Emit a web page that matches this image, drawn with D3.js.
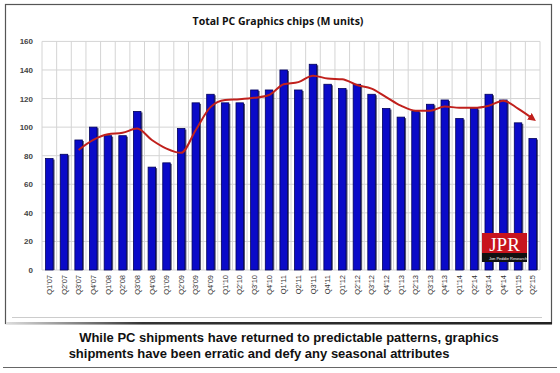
<!DOCTYPE html>
<html>
<head>
<meta charset="utf-8">
<script src="https://cdn.jsdelivr.net/npm/d3@7"></script>
<style>
  body { margin: 0; background: #fff; }
  svg { display: block; }
</style>
</head>
<body>
<div id="chart"></div>
<script>
// quarters Q1'07 .. Q2'15
var quarters = ["Q1'07","Q2'07","Q3'07","Q4'07","Q1'08","Q2'08","Q3'08","Q4'08",
  "Q1'09","Q2'09","Q3'09","Q4'09","Q1'10","Q2'10","Q3'10","Q4'10",
  "Q1'11","Q2'11","Q3'11","Q4'11","Q1'12","Q2'12","Q3'12","Q4'12",
  "Q1'13","Q2'13","Q3'13","Q4'13","Q1'14","Q2'14","Q3'14","Q4'14",
  "Q1'15","Q2'15"];

// shipments, M units
var shipments = [78, 81, 91, 100, 94, 94, 111, 72,
  75, 99, 117, 123, 117, 117, 126, 126,
  140, 126, 144, 130, 127, 130, 123, 113,
  107, 111, 116, 119, 106, 113, 123, 119,
  103, 92];

// red trend line (starts at Q3'07)
var trend = [null, null, 84, 91, 95, 96, 99, 91,
  85, 82, 98, 114, 119, 119.5, 120.5, 122.5,
  130, 131.5, 136, 134, 133.5, 129.5, 127, 121,
  115, 111.5, 111.5, 114.5, 113.5, 113.5, 115, 118.5,
  113, 106];

var yTicks = [0, 20, 40, 60, 80, 100, 120, 140, 160];

var title = "Total PC Graphics chips (M units)";
var caption = ["While PC shipments have returned to predictable patterns, graphics",
  "shipments have been erratic and defy any seasonal attributes"];

var width = 560, height = 373;
var plot = {left: 42, right: 540, top: 41.4, bottom: 270};

var svg = d3.select('#chart').append('svg')
  .attr('width', width)
  .attr('height', height);

var defs = svg.append('defs');
defs.append('marker')
  .attr('id', 'arrow')
  .attr('viewBox', '0 0 10 10')
  .attr('refX', 5).attr('refY', 5)
  .attr('markerWidth', 4).attr('markerHeight', 4)
  .attr('orient', 'auto')
  .append('path')
  .attr('d', 'M0,0L10,5L0,10z')
  .attr('fill', '#c0201c');

var grad = defs.append('linearGradient').attr('id', 'frameShade')
  .attr('x1', 0).attr('x2', 1).attr('y1', 0).attr('y2', 0);
grad.append('stop').attr('offset', 0).attr('stop-color', '#ddd');
grad.append('stop').attr('offset', 0.25).attr('stop-color', '#333');
grad.append('stop').attr('offset', 1).attr('stop-color', '#222');

// outer frame
svg.append('rect')
  .attr('x', 5.5).attr('y', 4.5)
  .attr('width', 546).attr('height', 319)
  .attr('fill', '#fff')
  .attr('stroke', '#555')
  .attr('stroke-width', 1.2);
svg.append('rect')
  .attr('x', 6).attr('y', 322)
  .attr('width', 546).attr('height', 2.5)
  .attr('fill', 'url(#frameShade)');
svg.append('line')
  .attr('x1', 12).attr('x2', 542)
  .attr('y1', 317.5).attr('y2', 317.5)
  .attr('stroke', '#ccc');

var x = d3.scaleBand()
  .domain(quarters)
  .range([plot.left, plot.right])
  .padding(0);

var y = d3.scaleLinear()
  .domain([0, 160])
  .range([plot.bottom, plot.top]);

var g = svg.append('g');

// horizontal grid
g.selectAll('.hgrid')
  .data(yTicks)
  .enter()
  .append('line')
  .attr('class', 'hgrid')
  .attr('x1', plot.left).attr('x2', plot.right)
  .attr('y1', function(d) { return y(d); })
  .attr('y2', function(d) { return y(d); })
  .attr('stroke', '#d4d4d4')
  .attr('stroke-width', 1);

// vertical grid on category boundaries
g.selectAll('.vgrid')
  .data(quarters.concat(['end']))
  .enter()
  .append('line')
  .attr('class', 'vgrid')
  .attr('x1', function(d, i) { return plot.left + i * x.step(); })
  .attr('x2', function(d, i) { return plot.left + i * x.step(); })
  .attr('y1', y(160)).attr('y2', y(0))
  .attr('stroke', '#d4d4d4')
  .attr('stroke-width', 1);

// y axis labels
var yAxis = d3.axisLeft(y).tickValues(yTicks).tickSize(0).tickPadding(0);
svg.append('g')
  .attr('transform', 'translate(33,0)')
  .call(yAxis)
  .call(function(s) { s.select('.domain').remove(); })
  .selectAll('text')
  .attr('font-family', 'Liberation Sans, Arial, sans-serif')
  .attr('font-size', 8)
  .attr('font-weight', 'bold')
  .attr('fill', '#444');

// bars
var barW = 7.5;
g.selectAll('.shadow')
  .data(shipments)
  .enter()
  .append('rect')
  .attr('class', 'shadow')
  .attr('x', function(d, i) { return x(quarters[i]) + x.bandwidth() / 2 - barW / 2 + 1.5; })
  .attr('y', function(d) { return y(d) + 1; })
  .attr('width', barW)
  .attr('height', function(d) { return y(0) - y(d) - 1; })
  .attr('fill', '#1a1a40')
  .attr('opacity', 0.75);

g.selectAll('.bar')
  .data(shipments)
  .enter()
  .append('rect')
  .attr('class', 'bar')
  .attr('x', function(d, i) { return x(quarters[i]) + x.bandwidth() / 2 - barW / 2; })
  .attr('y', function(d) { return y(d); })
  .attr('width', barW)
  .attr('height', function(d) { return y(0) - y(d); })
  .attr('fill', '#0a0ac8')
  .attr('stroke', '#00005a')
  .attr('stroke-width', 0.8);

// trend line
var line = d3.line()
  .defined(function(d) { return d != null; })
  .x(function(d, i) { return x(quarters[i]) + x.bandwidth() / 2; })
  .y(function(d) { return y(d); })
  .curve(d3.curveMonotoneX);

g.append('path')
  .datum(trend)
  .attr('d', line)
  .attr('fill', 'none')
  .attr('stroke', '#c0201c')
  .attr('stroke-width', 2)
  .attr('marker-end', 'url(#arrow)');

// x labels, rotated
svg.append('g')
  .selectAll('text')
  .data(quarters)
  .enter()
  .append('text')
  .attr('transform', function(d) {
    return 'translate(' + (x(d) + x.bandwidth() / 2 + 2.7) + ',' + (plot.bottom + 5) + ') rotate(-90)';
  })
  .attr('text-anchor', 'end')
  .attr('font-family', 'Liberation Sans, Arial, sans-serif')
  .attr('font-size', 7.5)
  .attr('fill', '#333')
  .text(function(d) { return d; });

// title
svg.append('text')
  .attr('x', 278).attr('y', 25)
  .attr('text-anchor', 'middle')
  .attr('font-family', 'Open Sans, Liberation Sans, sans-serif')
  .attr('font-size', 10.5)
  .attr('font-weight', 'bold')
  .attr('fill', '#111')
  .text(title);

// JPR logo
var logo = svg.append('g');
logo.append('rect')
  .attr('x', 482).attr('y', 233)
  .attr('width', 45).attr('height', 20)
  .attr('fill', '#c8141e');
logo.append('rect')
  .attr('x', 482).attr('y', 253)
  .attr('width', 45).attr('height', 9)
  .attr('fill', '#111');
logo.append('text')
  .attr('x', 504.5).attr('y', 251)
  .attr('text-anchor', 'middle')
  .attr('font-family', 'Liberation Serif, serif')
  .attr('font-size', 19)
  .attr('fill', '#fff')
  .text('JPR');
logo.append('text')
  .attr('x', 508).attr('y', 259.5)
  .attr('text-anchor', 'middle')
  .attr('font-family', 'Liberation Sans, sans-serif')
  .attr('font-size', 4)
  .attr('fill', '#fff')
  .text('Jon Peddie Research');

// caption
svg.selectAll('.caption')
  .data(caption)
  .enter()
  .append('text')
  .attr('class', 'caption')
  .attr('x', function(d, i) { return i === 0 ? 289 : 259; })
  .attr('y', function(d, i) { return 342 + i * 16; })
  .attr('text-anchor', 'middle')
  .attr('font-family', 'Liberation Sans, Arial, sans-serif')
  .attr('font-size', 13)
  .attr('font-weight', 'bold')
  .attr('fill', '#111')
  .text(function(d) { return d; });

svg.append('line')
  .attr('x1', 3).attr('x2', 557)
  .attr('y1', 367.5).attr('y2', 367.5)
  .attr('stroke', '#666')
  .attr('stroke-width', 1.2);
</script>
</body>
</html>
